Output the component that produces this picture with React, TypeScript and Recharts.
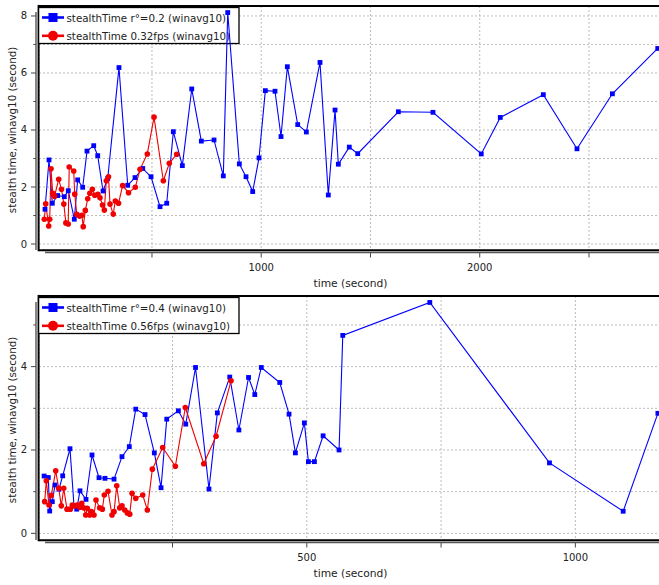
import React from 'react';
import { LineChart, Line, XAxis, YAxis, CartesianGrid } from 'recharts';

// ---------- data ----------
const topBlueTime = [10.5, 28.8, 43.9, 68.6, 98.9, 117, 144.6, 160, 183, 202.7, 233.4, 251.7, 276, 297.5, 349, 389, 422.4, 457.7, 495.7, 536.8, 567.5, 597.7, 639, 682, 725.9, 784, 826.5, 846.7, 899.8, 930.4, 961, 989.9, 1018.8, 1063, 1090.6, 1119.5, 1167, 1206.4, 1269, 1307, 1337.8, 1352.9, 1403, 1441.6, 1627.5, 1786, 2007, 2094, 2291, 2445, 2607, 2814.6];
const topBlueValue = [1.22, 2.95, 1.43, 1.7, 1.66, 1.87, 0.87, 2.25, 1.99, 3.26, 3.45, 3.1, 1.86, 2.3, 6.19, 2.06, 2.33, 2.65, 2.36, 1.31, 1.43, 3.94, 2.75, 5.44, 3.61, 3.65, 2.39, 8.12, 2.81, 2.36, 1.84, 3.02, 5.38, 5.36, 3.77, 6.22, 4.19, 3.93, 6.37, 1.72, 4.7, 2.8, 3.4, 3.17, 4.64, 4.62, 3.16, 4.44, 5.24, 3.34, 5.27, 6.86];

const topRedTime = [7.3, 13.7, 27.5, 32, 38, 45.8, 54, 73.2, 86, 96.6, 106, 116.7, 121.3, 141.9, 146.5, 156, 168.4, 179, 185.4, 195, 206, 215.6, 227, 238.4, 252.2, 262.2, 273.7, 282, 291, 301, 308, 322.7, 332.3, 347, 365.7, 392.7, 423.8, 445.3, 478.7, 509.4, 552, 579.4, 613.3];
const topRedValue = [0.87, 1.41, 0.63, 0.87, 2.64, 1.78, 1.68, 2.27, 1.92, 1.4, 0.74, 0.7, 2.7, 2.56, 1.75, 1.04, 0.98, 1.01, 0.61, 1.18, 1.59, 1.78, 1.92, 1.71, 1.74, 1.62, 1.37, 1.19, 2.22, 2.36, 1.4, 1.05, 1.51, 1.43, 2.05, 1.8, 1.99, 2.62, 3.16, 4.45, 2.22, 2.83, 3.15];

const bottomBlueTime = [11, 18.8, 21.4, 26.3, 31.3, 38.7, 45.6, 59.2, 66.7, 71.7, 77.8, 89, 100.2, 113.2, 124.4, 141.2, 156, 169.6, 181.6, 198.9, 216.2, 228.7, 239.3, 260.9, 274.7, 292.9, 317.9, 333.5, 356.6, 373.6, 391.6, 403.2, 415.3, 449.7, 467, 478.8, 495.5, 503, 514.2, 530.4, 560.1, 567, 729, 951.8, 1089, 1153.6];
const bottomBlueValue = [1.375, 1.34, 0.535, 0.76, 1.16, 1.06, 1.38, 2.03, 0.655, 0.58, 1.02, 0.815, 1.88, 1.335, 1.32, 1.3, 1.84, 2.08, 2.98, 2.85, 1.93, 1.095, 2.74, 2.94, 2.62, 3.98, 1.063, 2.89, 3.75, 2.48, 3.74, 3.33, 3.98, 3.62, 2.86, 1.93, 2.65, 1.72, 1.72, 2.34, 2.0, 4.75, 5.54, 1.69, 0.53, 2.88];

const bottomRedTime = [12.1, 15.1, 20.1, 24.4, 32.6, 38.2, 43, 47.5, 53.6, 59.8, 63.5, 68, 72.3, 77.3, 81, 84.7, 88.5, 91.4, 95.9, 98.9, 103.9, 107.6, 114.5, 119.4, 123.1, 130, 137.4, 141.2, 146.2, 151.8, 156, 161.1, 165.9, 170.4, 174.7, 181.6, 194.6, 203.2, 212.5, 231.8, 255.3, 273.9, 308.2, 331.1, 359];
const bottomRedValue = [0.76, 1.26, 0.68, 0.91, 1.5, 1.08, 0.66, 1.08, 0.58, 0.58, 0.68, 0.66, 0.68, 0.62, 0.72, 0.61, 0.44, 0.6, 0.44, 0.52, 0.44, 0.8, 0.61, 0.58, 0.92, 1.01, 0.44, 0.52, 1.14, 0.61, 0.66, 0.56, 0.49, 0.46, 0.96, 0.84, 0.92, 0.56, 1.54, 2.06, 1.61, 3.02, 1.67, 2.33, 3.66];

const topXTicks = [500, 1000, 1500, 2000, 2500, 3000];
const topXLabels = [1000, 2000];
const topYTicks = [0, 1, 2, 3, 4, 5, 6, 7, 8];
const topYLabels = [0, 2, 4, 6, 8];

const bottomXTicks = [250, 500, 750, 1000];
const bottomXLabels = [500, 1000];
const bottomYTicks = [0, 1, 2, 3, 4, 5];
const bottomYLabels = [0, 2, 4];

const topBlueName = 'stealthTime r°=0.2 (winavg10)';
const topRedName = 'stealthTime 0.32fps (winavg10)';
const bottomBlueName = 'stealthTime r°=0.4 (winavg10)';
const bottomRedName = 'stealthTime 0.56fps (winavg10)';
const xTitle = 'time (second)';
const yTitle = 'stealth time, winavg10 (second)';

const zip = (t: number[], v: number[]) => t.map((tt, i) => ({ t: tt, v: v[i] }));

// ---------- style ----------
const FONT = '"DejaVu Sans", Verdana, sans-serif';
const W = 700;
const BLUE = '#0000ff';
const RED = '#f00000';
const TEXT = '#222';

type Panel = {
  blue: { t: number; v: number }[];
  red: { t: number; v: number }[];
  xDomain: [number, number];
  yDomain: [number, number];
  xTicks: number[];
  xLabels: number[];
  yTicks: number[];
  yLabels: number[];
  blueName: string;
  redName: string;
  top: number;
  height: number;
};

const panels: Panel[] = [
  {
    blue: zip(topBlueTime, topBlueValue),
    red: zip(topRedTime, topRedValue),
    xDomain: [-17, 3008],
    yDomain: [-0.21, 8.35],
    xTicks: topXTicks,
    xLabels: topXLabels,
    yTicks: topYTicks,
    yLabels: topYLabels,
    blueName: topBlueName,
    redName: topRedName,
    top: 0,
    height: 290,
  },
  {
    blue: zip(bottomBlueTime, bottomBlueValue),
    red: zip(bottomRedTime, bottomRedValue),
    xDomain: [1.5, 1232],
    yDomain: [-0.16, 5.695],
    xTicks: bottomXTicks,
    xLabels: bottomXLabels,
    yTicks: bottomYTicks,
    yLabels: bottomYLabels,
    blueName: bottomBlueName,
    redName: bottomRedName,
    top: 290,
    height: 295,
  },
];

const SquareDot = (props: any) => {
  const { cx, cy, index } = props;
  if (cx == null || cy == null) return <g key={`s${index}`} />;
  return <rect key={`s${index}`} x={cx - 2.4} y={cy - 2.4} width={4.8} height={4.8} fill={BLUE} />;
};
const CircleDot = (props: any) => {
  const { cx, cy, index } = props;
  if (cx == null || cy == null) return <g key={`c${index}`} />;
  return <circle key={`c${index}`} cx={cx} cy={cy} r={2.8} fill={RED} />;
};

const PanelView = ({ p }: { p: Panel }) => {
  const xAxisH = p.height - 250;
  const XTick = (props: any) => {
    const { x, payload } = props;
    const lab = p.xLabels.includes(payload.value);
    return (
      <g>
        <line x1={x} x2={x} y1={253} y2={257.5} stroke="#444" strokeWidth={1} />
        {lab && (
          <text x={x} y={267} textAnchor="middle" dominantBaseline="central" fontSize={10} fontFamily={FONT} fill={TEXT}>
            {payload.value}
          </text>
        )}
      </g>
    );
  };
  const YTick = (props: any) => {
    const { y, payload } = props;
    const lab = p.yLabels.includes(payload.value);
    return (
      <g>
        <line x1={lab ? 31 : 33.3} x2={36} y1={y} y2={y} stroke="#444" strokeWidth={1} />
        {lab && (
          <text x={27} y={y} textAnchor="end" dominantBaseline="central" fontSize={10} fontFamily={FONT} fill={TEXT}>
            {payload.value}
          </text>
        )}
      </g>
    );
  };
  const layer: React.CSSProperties = { position: 'absolute', left: 0, top: 0 };
  return (
    <div style={{ position: 'absolute', left: 0, top: p.top, width: W, height: p.height }}>
      {/* layer A: grid + ticks */}
      <div style={layer}>
        <LineChart width={W} height={p.height} margin={{ top: 6, right: 0, bottom: 0, left: 0 }} data={p.blue}>
          <CartesianGrid stroke="#bcbcbc" strokeDasharray="2 2" />
          <XAxis
            type="number"
            dataKey="t"
            domain={p.xDomain}
            allowDataOverflow
            ticks={p.xTicks}
            interval={0}
            height={xAxisH}
            axisLine={false}
            tickLine={false}
            tick={(props: any) => <XTick {...props} />}
          />
          <YAxis
            type="number"
            dataKey="v"
            domain={p.yDomain}
            allowDataOverflow
            ticks={p.yTicks}
            interval={0}
            width={39}
            axisLine={false}
            tickLine={false}
            tick={(props: any) => <YTick {...props} />}
          />
        </LineChart>
      </div>
      {/* layer: frame, axis lines, titles, legend */}
      <svg style={layer} width={W} height={p.height}>
        <line x1={36} x2={36} y1={12} y2={250} stroke="#555" strokeWidth={1.4} />
        <line x1={45} x2={W} y1={252.6} y2={252.6} stroke="#555" strokeWidth={1.5} />
        <line x1={38.6} x2={W} y1={5.9} y2={5.9} stroke="#000" strokeWidth={2} />
        <line x1={38.6} x2={W} y1={250.2} y2={250.2} stroke="#000" strokeWidth={2} />
        <line x1={38.6} x2={38.6} y1={4.9} y2={251.2} stroke="#000" strokeWidth={2} />
        <text x={350.5} y={283.3} textAnchor="middle" dominantBaseline="central" fontSize={10.7} fontFamily={FONT} fill={TEXT}>
          {xTitle}
        </text>
        <text
          x={11.7}
          y={130}
          textAnchor="middle"
          dominantBaseline="central"
          fontSize={10.3}
          fontFamily={FONT}
          fill={TEXT}
          transform="rotate(-90 11.7 130)"
        >
          {yTitle}
        </text>
        <rect x={38.6} y={7.5} width={200.4} height={36} fill="#fff" stroke="#000" strokeWidth={1.3} />
        <line x1={42} x2={64} y1={17.5} y2={17.5} stroke={BLUE} strokeWidth={2.6} />
        <rect x={48.5} y={13} width={9} height={9} fill={BLUE} />
        <text x={66.5} y={17.8} dominantBaseline="central" fontSize={10.3} fontFamily={FONT} fill={TEXT}>
          {p.blueName}
        </text>
        <line x1={42} x2={64} y1={35.8} y2={35.8} stroke={RED} strokeWidth={2.6} />
        <circle cx={53} cy={35.8} r={5} fill={RED} />
        <text x={66.5} y={36.1} dominantBaseline="central" fontSize={10.3} fontFamily={FONT} fill={TEXT}>
          {p.redName}
        </text>
      </svg>
      {/* layer B: data */}
      <div style={layer}>
        <LineChart width={W} height={p.height} margin={{ top: 6, right: 0, bottom: xAxisH, left: 39 }}>
          <XAxis type="number" dataKey="t" domain={p.xDomain} allowDataOverflow hide />
          <YAxis type="number" dataKey="v" domain={p.yDomain} allowDataOverflow hide />
          <Line
            data={p.blue}
            dataKey="v"
            stroke={BLUE}
            strokeWidth={1.1}
            dot={SquareDot}
            activeDot={false}
            isAnimationActive={false}
          />
          <Line
            data={p.red}
            dataKey="v"
            stroke={RED}
            strokeWidth={1.1}
            dot={CircleDot}
            activeDot={false}
            isAnimationActive={false}
          />
        </LineChart>
      </div>
    </div>
  );
};

export default function App() {
  return (
    <div
      style={{
        position: 'absolute',
        left: 0,
        top: 0,
        width: 659,
        height: 585,
        overflow: 'hidden',
        background: '#fff',
      }}
    >
      {panels.map((p, i) => (
        <PanelView key={i} p={p} />
      ))}
    </div>
  );
}
